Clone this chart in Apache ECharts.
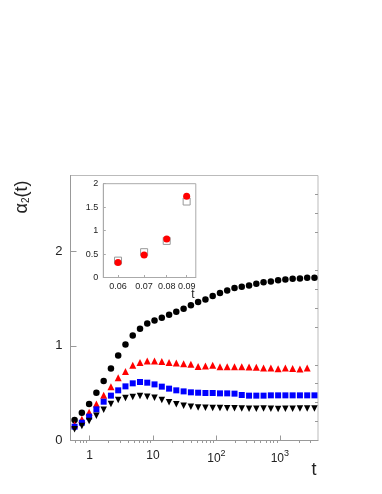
<!DOCTYPE html>
<html><head><meta charset="utf-8">
<script src="https://cdn.jsdelivr.net/npm/echarts@6/dist/echarts.min.js"></script>
<style>html,body{margin:0;padding:0;background:#fff}#c{width:382px;height:494px}</style>
</head><body><div id="c"></div>
<script>
// main plot: time values (log axis)
const tValues = [0.58,0.755,0.983,1.28,1.667,2.17,2.826,3.68,4.79,6.24,8.12,10.57,13.77,17.93,23.3,30.4,39.6,51.5,67.1,87.4,113.8,148,193,251,327,426,554,722,940,1224,1593,2075,2701,3517];
const blackCircles = [0.216,0.292,0.386,0.505,0.630,0.760,0.898,1.014,1.109,1.181,1.235,1.269,1.297,1.329,1.361,1.393,1.428,1.463,1.491,1.527,1.558,1.586,1.611,1.625,1.639,1.657,1.671,1.681,1.692,1.702,1.709,1.713,1.720,1.720];
const redTriangles = [0.167,0.224,0.298,0.385,0.478,0.569,0.662,0.730,0.795,0.825,0.840,0.840,0.835,0.825,0.818,0.810,0.805,0.782,0.787,0.794,0.780,0.780,0.780,0.780,0.776,0.773,0.766,0.766,0.759,0.766,0.762,0.755,0.766];
const blueSquares = [0.146,0.188,0.252,0.329,0.410,0.474,0.530,0.572,0.604,0.618,0.611,0.593,0.569,0.548,0.530,0.519,0.509,0.505,0.502,0.502,0.498,0.498,0.495,0.481,0.474,0.474,0.474,0.477,0.477,0.477,0.477,0.477,0.477,0.477];
const blackDownTriangles = [0.118,0.153,0.206,0.262,0.326,0.386,0.428,0.449,0.460,0.470,0.463,0.452,0.428,0.403,0.382,0.368,0.357,0.350,0.347,0.343,0.343,0.340,0.340,0.338,0.335,0.335,0.338,0.335,0.333,0.335,0.335,0.338,0.338,0.338];
const xMajorTicks = [1,10,100,1000];
const xMinorTicks = [0.6,0.7,0.8,0.9,2,3,4,5,6,7,8,9,20,30,40,50,60,70,80,90,200,300,400,500,600,700,800,900,2000,3000];
const yMajorTicks = [0,1,2];
const yMinorTicks = [0.2,0.4,0.6,0.8,1.2,1.4,1.6,1.8,2.2,2.4,2.6];
// inset
const insetT = [0.06,0.07,0.08,0.09];
const insetRed = [0.32,0.48,0.82,1.73];
const insetOpen = [0.36,0.54,0.78,1.62];
const insetYTicks = [0,0.5,1,1.5,2];

const FONT = 'Liberation Sans, Arial, sans-serif';
const pair = (xs, ys) => ys.map((y, i) => [xs[i], y]);

const chart = echarts.init(document.getElementById('c'), null, {renderer: 'canvas'});
chart.setOption({
  animation: false,
  backgroundColor: '#fff',
  grid: [
    {left: 70.5, right: 64, top: 175.5, bottom: 53.5, show: true, borderColor: '#bbb', borderWidth: 1, backgroundColor: 'transparent'},
    {left: 103.3, right: 186.2, top: 183.7, bottom: 216.5, show: true, borderColor: '#aaa', borderWidth: 1, backgroundColor: '#fff'}
  ],
  xAxis: [
    {type: 'log', gridIndex: 0, min: 0.5, max: 4000, logBase: 10,
     axisLine: {show: true, lineStyle: {color: '#999'}},
     axisTick: {show: true, inside: true, length: 5, customValues: xMajorTicks, lineStyle: {color: '#999'}},
     axisLabel: {customValues: xMajorTicks, margin: 9, color: '#222', fontFamily: FONT, fontSize: 12,
       formatter: v => v >= 100 ? '{b|10}{s|' + Math.round(Math.log10(v)) + '}' : String(v),
       rich: {b: {fontSize: 12, fontFamily: FONT, color: '#222'}, s: {fontSize: 9, fontFamily: FONT, color: '#222', padding: [0,0,9,0]}}},
     splitLine: {show: false}},
    {type: 'log', gridIndex: 0, min: 0.5, max: 4000, logBase: 10,
     axisLine: {show: false}, axisLabel: {show: false}, splitLine: {show: false},
     axisTick: {show: true, inside: true, length: 2.5, customValues: xMinorTicks, lineStyle: {color: '#999'}}},
    {type: 'log', gridIndex: 1, min: 0.055, max: 0.095, logBase: 10,
     axisLine: {show: true, lineStyle: {color: '#aaa'}},
     axisTick: {show: true, inside: true, length: 2.5, customValues: insetT, lineStyle: {color: '#aaa'}},
     axisLabel: {customValues: insetT, margin: 5, color: '#222', fontFamily: FONT, fontSize: 9,
       formatter: v => v.toFixed(2)},
     splitLine: {show: false}}
  ],
  yAxis: [
    {type: 'value', gridIndex: 0, min: 0, max: 2.8,
     axisLine: {show: true, lineStyle: {color: '#999'}},
     axisTick: {show: true, inside: true, length: 6, customValues: yMajorTicks, lineStyle: {color: '#999'}},
     axisLabel: {customValues: yMajorTicks, margin: 8, color: '#222', fontFamily: FONT, fontSize: 13},
     splitLine: {show: false}},
    {type: 'value', gridIndex: 0, min: 0, max: 2.8,
     axisLine: {show: false}, axisLabel: {show: false}, splitLine: {show: false},
     axisTick: {show: true, inside: true, length: 3, customValues: yMinorTicks, lineStyle: {color: '#999'}}},
    {type: 'value', gridIndex: 1, min: 0, max: 2,
     axisLine: {show: true, lineStyle: {color: '#aaa'}},
     axisTick: {show: true, inside: true, length: 2.5, customValues: insetYTicks, lineStyle: {color: '#aaa'}},
     axisLabel: {customValues: insetYTicks, margin: 5, color: '#222', fontFamily: FONT, fontSize: 9},
     splitLine: {show: false}}
  ],
  series: [
    {type: 'scatter', xAxisIndex: 0, yAxisIndex: 0, data: pair(tValues, blackCircles), symbol: 'circle', symbolSize: 6.5, itemStyle: {color: '#000', opacity: 1}},
    {type: 'scatter', xAxisIndex: 0, yAxisIndex: 0, data: pair(tValues, redTriangles), symbol: 'triangle', symbolSize: 7, itemStyle: {color: '#ff0000', opacity: 1}},
    {type: 'scatter', xAxisIndex: 0, yAxisIndex: 0, data: pair(tValues, blueSquares), symbol: 'rect', symbolSize: 6, itemStyle: {color: '#0000ff', opacity: 1}},
    {type: 'scatter', xAxisIndex: 0, yAxisIndex: 0, data: pair(tValues, blackDownTriangles), symbol: 'triangle', symbolRotate: 180, symbolSize: 6.5, itemStyle: {color: '#000', opacity: 1}},
    {type: 'scatter', xAxisIndex: 2, yAxisIndex: 2, data: pair(insetT, insetOpen), symbol: 'rect', symbolSize: 7, itemStyle: {color: '#fff', borderColor: '#999', borderWidth: 1, opacity: 1}},
    {type: 'scatter', xAxisIndex: 2, yAxisIndex: 2, data: pair(insetT, insetRed), symbol: 'circle', symbolSize: 7, itemStyle: {color: '#ff0000', opacity: 1}}
  ],
  graphic: [
    {type: 'text', x: 22, y: 197, rotation: Math.PI / 2,
     style: {text: '{a|α}{s|2}{a|(t)}', align: 'center', verticalAlign: 'middle',
       rich: {a: {fontSize: 18, fontFamily: FONT, fill: '#222'}, s: {fontSize: 10, fontFamily: FONT, fill: '#222', padding: [8,0,0,0]}}}},
    {type: 'text', x: 314, y: 470, style: {text: 't', fontSize: 18, fontFamily: FONT, fill: '#222', align: 'center', verticalAlign: 'middle'}},
    {type: 'text', x: 193, y: 295, style: {text: 't', fontSize: 12, fontFamily: FONT, fill: '#222', align: 'center', verticalAlign: 'middle'}}
  ]
});
</script>
</body></html>
